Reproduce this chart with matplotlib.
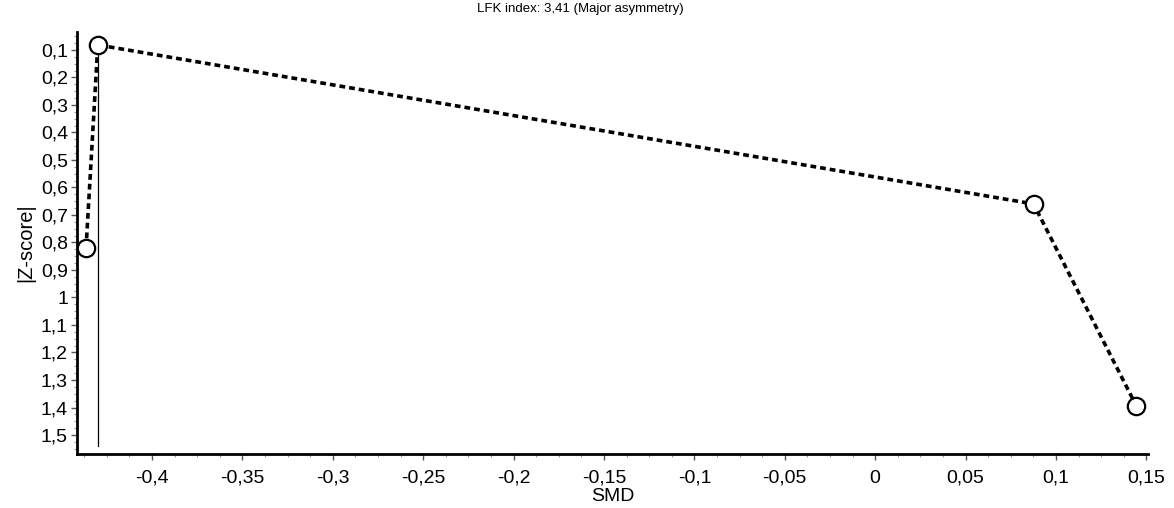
import numpy as np
import matplotlib
matplotlib.use("Agg")
import matplotlib.pyplot as plt
from matplotlib.ticker import FuncFormatter, MultipleLocator

plt.rcParams["font.family"] = ["Liberation Sans", "DejaVu Sans"]

# data
smd = [-0.4365, -0.430, 0.0876, 0.1445]
zscore = [0.82, 0.082, 0.66, 1.395]
title = "LFK index: 3,41 (Major asymmetry)"

x_ticks = np.round(np.arange(-0.40, 0.151, 0.05), 2)
y_ticks = np.round(np.arange(0.1, 1.51, 0.1), 1)


def comma(v, pos=None):
    v = round(v, 3)
    if v == 0:
        return "0"
    return f"{v:g}".replace(".", ",")


fig = plt.figure(figsize=(11.74, 5.08), dpi=100)
ax = fig.add_axes([0.0656, 0.1063, 0.9124, 0.8307])

# reference line at the study with the smallest |Z|
i_min = int(np.argmin(zscore))
ax.plot([smd[i_min], smd[i_min]], [zscore[i_min], 1.54], color="black", lw=0.9, zorder=1)

ax.plot(smd, zscore, linestyle=(0, (1.6, 1.1)), color="black", lw=2.6, zorder=2)
ax.plot(smd, zscore, linestyle="none", marker="o", ms=12.5, mfc="white",
        mec="black", mew=1.6, zorder=3)

ax.set_xlim(-0.4415, 0.151)
ax.set_ylim(1.569, 0.035)

ax.set_xticks(x_ticks)
ax.set_yticks(y_ticks)
ax.xaxis.set_minor_locator(MultipleLocator(0.0125))
ax.yaxis.set_minor_locator(MultipleLocator(0.025))
ax.xaxis.set_major_formatter(FuncFormatter(comma))
ax.yaxis.set_major_formatter(FuncFormatter(comma))

ax.tick_params(which="major", length=4.5, width=1, color="#555555", labelsize=14)
ax.tick_params(which="minor", length=2.5, width=0.8, color="#999999")
ax.tick_params(axis="x", which="major", pad=7)
ax.tick_params(axis="y", which="major", pad=2)

for side in ["top", "right"]:
    ax.spines[side].set_visible(False)
for side in ["left", "bottom"]:
    ax.spines[side].set_linewidth(2)

ax.set_xlabel("SMD", fontsize=14, labelpad=1)
ax.set_ylabel("|Z-score|", fontsize=14.5, labelpad=4)

fig.text(0.494, 0.982, title, ha="center", va="center", fontsize=9.5)

fig.savefig("out.png", dpi=100)
